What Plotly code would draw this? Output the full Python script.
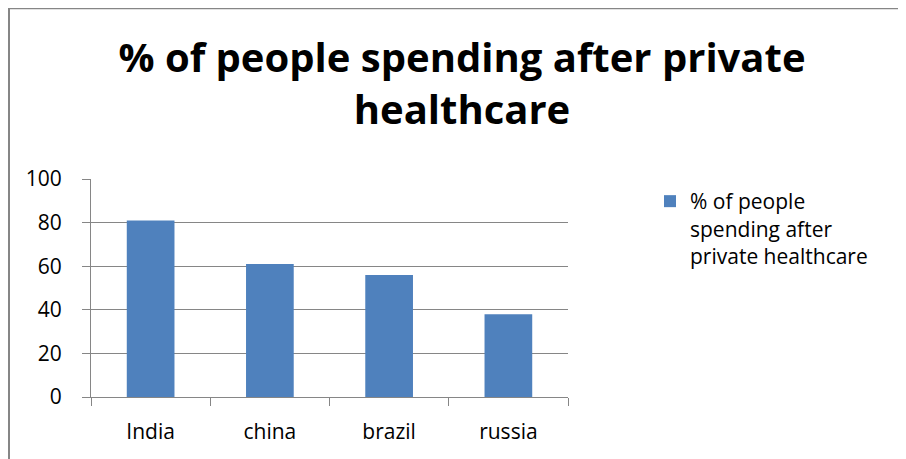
import plotly.graph_objects as go

categories = ["India", "china", "brazil", "russia"]
values = [81, 61, 56, 38]
series_name = "% of people<br>spending after<br>private healthcare"
title_text = "% of people spending after private<br>healthcare"
y_ticks = [0, 20, 40, 60, 80, 100]

W, H = 906, 459
OFF = 8  # page body margin
# plot area in screen pixels
L, R, T, B = 91, 568, 179, 397
pw, ph = R - L, B - T

def px(x):
    return (x - L) / pw

def py(y):
    return (B - y) / ph

FONT = "Open Sans"
fig = go.Figure()
fig.add_trace(go.Bar(
    x=categories, y=values, name=series_name,
    marker=dict(color="#4F81BD", line=dict(width=0)),
    showlegend=True,
))

grid = "#868686"
fig.update_layout(
    width=W, height=H,
    margin=dict(l=L - OFF, r=W - R + OFF, t=T - OFF, b=H - B + OFF, pad=0),
    paper_bgcolor="white", plot_bgcolor="white",
    font=dict(family=FONT, color="black", size=21),
    bargap=0.6,
    title=dict(
        text=title_text,
        font=dict(family=FONT, size=40, color="black", weight="bold"),
        x=(462 - OFF) / W, xanchor="center", xref="container",
        y=1 - 64 / H, yanchor="top", yref="container",
    ),
    showlegend=True,
    legend=dict(
        x=px(650), xanchor="left", y=py(181), yanchor="top",
        font=dict(family=FONT, size=21, color="black"),
        valign="top", bgcolor="rgba(0,0,0,0)", borderwidth=0,
    ),
    xaxis=dict(
        showline=True, linecolor=grid, linewidth=1,
        ticks="outside", tickson="boundaries", ticklen=8, tickcolor=grid, tickwidth=1,
        showgrid=False, ticklabelstandoff=16,
        tickfont=dict(family=FONT, size=21, color="black"),
    ),
    yaxis=dict(
        range=[0, 100], tickvals=y_ticks, showline=True, linecolor=grid, linewidth=1,
        ticks="outside", ticklen=8, tickcolor=grid, tickwidth=1,
        showgrid=True, gridcolor=grid, gridwidth=1, zeroline=False,
        ticklabelstandoff=16,
        tickfont=dict(family=FONT, size=21, color="black"),
    ),
    shapes=[
        dict(type="line", xref="paper", yref="paper",
             x0=px(9), x1=px(930), y0=py(8.5), y1=py(8.5),
             line=dict(color=grid, width=1.5)),
        dict(type="line", xref="paper", yref="paper",
             x0=px(9), x1=px(9), y0=py(8), y1=py(480),
             line=dict(color=grid, width=2)),
    ],
)

fig.write_html("out.html")
